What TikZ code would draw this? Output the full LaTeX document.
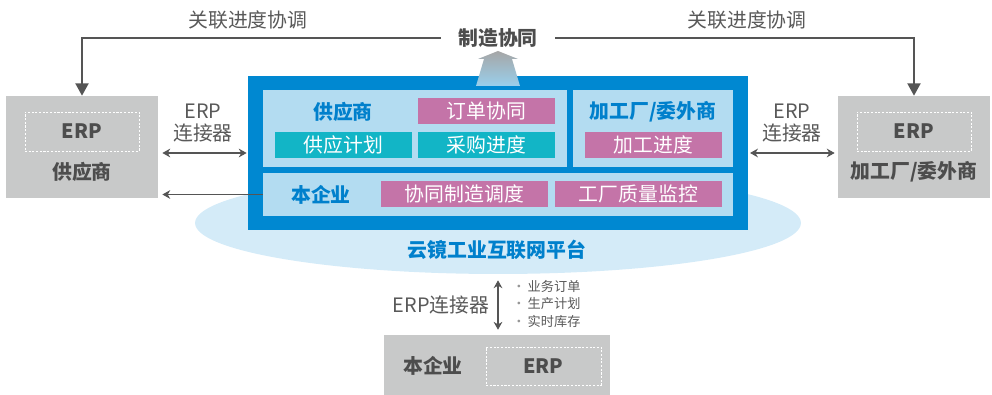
\documentclass[tikz,border=0pt]{standalone}
\usepackage{fontspec}
\setmainfont{Noto Sans CJK SC}
\usetikzlibrary{arrows.meta,shapes.geometric,calc}

\begin{document}
\begin{tikzpicture}[x=0.02cm, y=-0.02cm,
  plaintext/.style={text=c_text, inner sep=0, font=\fontsize{11.3}{13}\selectfont},
  boxlabel/.style={text=c_dark, inner sep=0, font=\fontsize{11.3}{13}\selectfont\bfseries},
  paneltitle/.style={text=c_title, inner sep=0, font=\fontsize{11.3}{13}\selectfont\bfseries},
  graybox/.style={fill=c_gray, minimum width=3.04cm, minimum height=2.04cm, inner sep=0},
  erpbox/.style={draw=white, dash pattern=on 1.2pt off 0.9pt, line width=0.5pt, minimum width=2.28cm, minimum height=0.78cm, inner sep=0, text=c_dark, font=\fontsize{11.3}{13}\selectfont\bfseries},
  panel/.style={fill=c_panel, inner sep=0},
  tag/.style={text=white, minimum width=2.74cm, minimum height=0.52cm, inner sep=0, font=\fontsize{11.3}{13}\selectfont},
  pinktag/.style={tag, fill=c_pink},
  tealtag/.style={tag, fill=c_teal},
  link/.style={draw=c_arrow, line width=0.8pt, -{Triangle[width=7.5pt,length=7pt]}},
  onearrow/.style={draw=c_arrow, line width=0.6pt, -{Stealth[width=5pt,length=4.5pt]}},
  biarrow/.style={draw=c_arrow, line width=0.6pt, {Stealth[width=5pt,length=4.5pt]}-{Stealth[width=5pt,length=4.5pt]}}
]

\definecolor{c_gray}{RGB}{200,201,201}
\definecolor{c_text}{RGB}{89,89,89}
\definecolor{c_dark}{RGB}{77,77,77}
\definecolor{c_arrow}{RGB}{85,85,85}
\definecolor{c_blue}{RGB}{0,136,209}
\definecolor{c_title}{RGB}{0,128,204}
\definecolor{c_panel}{RGB}{179,220,241}
\definecolor{c_cloud}{RGB}{212,235,248}
\definecolor{c_pink}{RGB}{196,116,168}
\definecolor{c_teal}{RGB}{18,181,198}
\definecolor{c_dot}{RGB}{150,150,150}

\useasboundingbox (0,0) rectangle (992,395);

% Platform cloud and frame
\node (cloud) at (498,223) [ellipse, fill=c_cloud, minimum width=12.12cm, minimum height=2.04cm, inner sep=0] {};
\node (platform) at (498,153) [fill=c_blue, minimum width=10cm, minimum height=3.08cm, inner sep=0] {};
\node (platformname) at (497,250) [paneltitle] {云镜工业互联网平台};

% Panels
\node (supplierpanel) at (415,128.5) [panel, minimum width=6.08cm, minimum height=1.54cm] {};
\node (factorypanel) at (653,128.5) [panel, minimum width=3.2cm, minimum height=1.54cm] {};
\node (ownpanel) at (498,194.5) [panel, minimum width=9.4cm, minimum height=0.86cm] {};

\node (suppliertitle) at (343,112) [paneltitle] {供应商};
\node (factorytitle) at (653,112) [paneltitle] {加工厂/委外商};
\node (owntitle) at (321,195) [paneltitle] {本企业};

% Function tags
\node (order) at (486.5,111) [pinktag] {订单协同};
\node (supplyplan) at (343.5,145) [tealtag] {供应计划};
\node (purchase) at (486.5,145) [tealtag] {采购进度};
\node (process) at (653.5,145) [pinktag] {加工进度};
\node (schedule) at (464.5,194) [pinktag, minimum width=3.34cm] {协同制造调度};
\node (quality) at (638.5,194) [pinktag, minimum width=3.34cm] {工厂质量监控};

% Upward arrow
\shade[top color=gray!70, middle color=gray!30, bottom color=c_blue!40!white]
  (498,51) -- (518,59) -- (512,59) -- (520,86) -- (476,86) -- (484,59) -- (478,59) -- cycle;
\node (title) at (498,38) [boxlabel, inner xsep=0.34cm] {制造协同};

% Supplier
\node (supplierbox) at (82,147) [graybox] {};
\node (suppliererp) at (82,131.5) [erpbox] {ERP};
\node (suppliername) at (82,172) [boxlabel] {供应商};

% Factory
\node (factorybox) at (914,147) [graybox] {};
\node (factoryerp) at (914,131.5) [erpbox] {ERP};
\node (factoryname) at (914,172) [boxlabel] {加工厂/委外商};

% Own enterprise
\node (ownbox) at (497,365) [graybox, minimum width=4.52cm, minimum height=1.2cm] {};
\node (ownerp) at (543.5,366) [erpbox, minimum width=2.3cm, minimum height=0.76cm] {ERP};
\node (ownname) at (433,366) [boxlabel] {本企业};

% Progress links
\node (leftsync) at (248,20) [plaintext] {关联进度协调};
\node (rightsync) at (747,20) [plaintext] {关联进度协调};
\draw[link] (title.west) -| (supplierbox.north);
\draw[link] (title.east) -| (factorybox.north);

% Connectors
\node (leftconn) at (203,123) [plaintext, align=center] {ERP\\连接器};
\node (rightconn) at (792,123) [plaintext, align=center] {ERP\\连接器};
\node (ownconn) at (441,305) [plaintext] {ERP连接器};
\draw[biarrow, shorten <=0.6pt, shorten >=2.3pt] (platform.west) -- (supplierbox.east |- platform.west);
\draw[onearrow, shorten >=2.3pt] (ownpanel.west) -- (supplierbox.east |- ownpanel.west);
\draw[biarrow, shorten <=1pt, shorten >=1.7pt] (platform.east) -- (factorybox.west |- platform.east);
\draw[biarrow, shorten <=3.4pt, shorten >=2.8pt] (cloud.south) -- (ownbox.north -| cloud.south);

% Data items
\node (datalist) at (512,304) [anchor=west, inner sep=0, align=left, text=c_text, font=\fontsize{7.5}{9.9}\selectfont]
  {{\color{c_dot}•}\,业务订单\\{\color{c_dot}•}\,生产计划\\{\color{c_dot}•}\,实时库存};

\end{tikzpicture}
\end{document}
